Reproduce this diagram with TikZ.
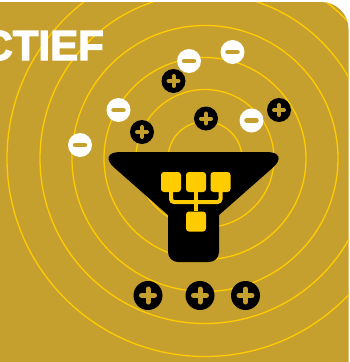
\documentclass[tikz,border=0pt]{standalone}
\usepackage{fontspec}
\setmainfont{Liberation Sans}
\newfontfamily\titlefont[FakeBold=3]{Liberation Sans Bold}
\usetikzlibrary{positioning}
\definecolor{panelGold}{HTML}{C5A02F}
\definecolor{ringYellow}{HTML}{FFCC00}
\begin{document}
\begin{tikzpicture}[
    x=1pt, y=-1pt,
    panel/.style={
        rounded corners=27pt,
    },
    ring/.style={
        draw=ringYellow, line width=1.3pt,
    },
    square/.style={
        fill=ringYellow, rounded corners=3pt,
        minimum size=20pt, inner sep=0pt,
    },
    branch/.style={
        draw=ringYellow, line width=4pt, rounded corners=3pt,
    },
    plusdot/.style={
        circle, fill=black, minimum size=24pt, inner sep=0pt,
        path picture={
            \draw[panelGold, line width=4pt, line cap=round]
                ([xshift=-5pt]path picture bounding box.center) -- ([xshift=5pt]path picture bounding box.center)
                ([yshift=-5pt]path picture bounding box.center) -- ([yshift=5pt]path picture bounding box.center);
        },
    },
    bigplusdot/.style={
        circle, fill=black, minimum size=29pt, inner sep=0pt,
        path picture={
            \draw[panelGold, line width=5pt, line cap=round]
                ([xshift=-6.5pt]path picture bounding box.center) -- ([xshift=6.5pt]path picture bounding box.center)
                ([yshift=-6.5pt]path picture bounding box.center) -- ([yshift=6.5pt]path picture bounding box.center);
        },
    },
    minusdot/.style={
        circle, fill=white, minimum size=24pt, inner sep=0pt,
        path picture={
            \draw[panelGold, line width=4.5pt, line cap=round]
                ([xshift=-5pt]path picture bounding box.center) -- ([xshift=5pt]path picture bounding box.center);
        },
    },
]
\useasboundingbox (0,0) rectangle (350,362);

%--- Panel with rounded corner ---
\path[fill=panelGold, panel] (-40,2) -- (348.5,2) -- (348.5,400) -- (-40,400) -- cycle;

%--- Rings round the funnel ---
\begin{scope}
\clip[panel] (-40,2) -- (348.5,2) -- (348.5,400) -- (-40,400) -- cycle;
\coordinate (mid) at (205,158.5);
\draw[ring] (mid) circle[radius=37pt];
\draw[ring] (mid) circle[radius=69pt];
\draw[ring] (mid) circle[radius=101pt];
\draw[ring] (mid) circle[radius=133pt];
\draw[ring] (mid) circle[radius=165pt];
\draw[ring] (mid) circle[radius=198pt];
\end{scope}

%--- Title ---
\node[anchor=base east, inner sep=0pt, text=white,
      font=\fontsize{42pt}{42pt}\titlefont] (title) at (104,60) {CTIEF};

%--- Funnel ---
\fill[black, rounded corners=24pt] (96.5,152) -- (290.6,152) -- (193.5,237.5) -- cycle;
\fill[black, rounded corners=10pt] (168,195) rectangle (219,262);

%--- Squares ---
\node[square] (in1) at (171,182) {};
\node[square] (in2) at (196,182) {};
\node[square] (in3) at (220.5,182) {};
\node[square] (out) at (196,221.5) {};

%--- Branches: inputs --- output ---
\coordinate (join) at (196,202);
\draw[branch] (in1.south) |- (join);
\draw[branch] (in3.south) |- (join);
\draw[branch] (in2.south) -- (out.north);

%--- Plus dots ---
\node[plusdot] (p1) at (142,132) {};
\node[plusdot] (p2) at (173.5,81) {};
\node[plusdot] (p3) at (206,118.5) {};
\node[plusdot] (p4) at (279,110) {};
\node[bigplusdot] (p5) at (148,295.5) {};
\node[bigplusdot] (p6) at (200,295.5) {};
\node[bigplusdot] (p7) at (245.5,295.5) {};

%--- Minus dots ---
\node[minusdot] (m1) at (80,145) {};
\node[minusdot] (m2) at (118.5,110) {};
\node[minusdot] (m3) at (189,61) {};
\node[minusdot] (m4) at (232.5,52) {};
\node[minusdot] (m5) at (251.5,120.5) {};

\end{tikzpicture}
\end{document}
